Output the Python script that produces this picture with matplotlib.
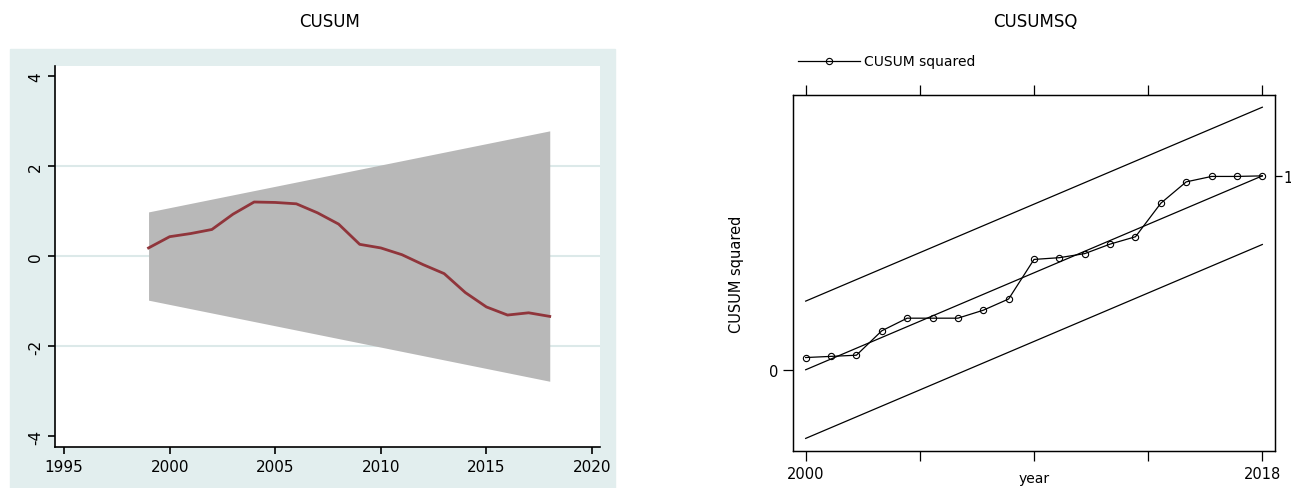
import matplotlib.pyplot as plt
from matplotlib.patches import Rectangle

plt.rcParams['font.family'] = ['DejaVu Sans']

# CUSUM panel
years = list(range(1999, 2019))
cusum = [0.18, 0.43, 0.50, 0.59, 0.93, 1.20, 1.19, 1.16, 0.96, 0.71,
         0.26, 0.18, 0.03, -0.19, -0.39, -0.81, -1.13, -1.31, -1.26, -1.34]
band_years = [1999, 2018]
band_upper = [0.98, 2.78]
band_lower = [-0.98, -2.78]
cusum_xticks = [1995, 2000, 2005, 2010, 2015, 2020]
cusum_yticks = [-4, -2, 0, 2, 4]

# CUSUMSQ panel
sq_years = list(range(2000, 2019))
cusum_sq = [0.063, 0.069, 0.075, 0.201, 0.266, 0.266, 0.266, 0.307, 0.365, 0.569,
            0.578, 0.599, 0.648, 0.686, 0.859, 0.969, 0.997, 0.997, 1.0]
mean_line = [0.0, 1.0]
upper_line = [0.354, 1.354]
lower_line = [-0.354, 0.646]
line_years = [2000, 2018]

fig = plt.figure(figsize=(12.91, 4.89), dpi=100)

# Stata-like background for the left graph
fig.patches.append(Rectangle((10 / 1291, 0), 605 / 1291, 439 / 489,
                             transform=fig.transFigure, color='#e2eeee', zorder=-10))
fig.text(330 / 1291, 1 - 22 / 489, 'CUSUM', ha='center', va='center', fontsize=12)
fig.text(1035 / 1291, 1 - 22 / 489, 'CUSUMSQ', ha='center', va='center', fontsize=12)

ax1 = fig.add_axes([55 / 1291, 1 - 448 / 489, 545 / 1291, 381 / 489])
ax1.set_facecolor('white')
ax1.fill_between(band_years, band_lower, band_upper, color='#b8b8b8', lw=0, zorder=2)
ax1.plot(years, cusum, color='#90353b', lw=2, zorder=3)
for g in [-2, 0, 2]:
    ax1.axhline(g, color='#dce9e9', lw=1.5, zorder=1)
ax1.set_xlim(1994.57, 2020.38)
ax1.set_ylim(-4.24, 4.22)
ax1.set_xticks(cusum_xticks)
ax1.set_yticks(cusum_yticks)
ax1.set_yticklabels([str(v) for v in cusum_yticks], rotation=90, va='center')
ax1.spines['top'].set_visible(False)
ax1.spines['right'].set_visible(False)
ax1.spines['left'].set_linewidth(1.2)
ax1.spines['bottom'].set_linewidth(1.2)
ax1.tick_params(labelsize=11, length=5, width=1.2)

ax2 = fig.add_axes([793 / 1291, 1 - 452 / 489, 482 / 1291, 356 / 489])
ax2.plot(line_years, upper_line, color='black', lw=0.9)
ax2.plot(line_years, mean_line, color='black', lw=0.9)
ax2.plot(line_years, lower_line, color='black', lw=0.9)
ax2.plot(sq_years, cusum_sq, color='black', lw=0.9, marker='o', ms=4.5,
         mfc='none', mew=0.8, label='CUSUM squared')
ax2.set_xlim(1999.5, 2018.5)
ax2.set_ylim(-0.419, 1.417)
ax2.set_xticks([2000, 2004.5, 2009, 2013.5, 2018])
ax2.set_xticklabels(['2000', '', '', '', '2018'])
ax2.set_yticks([0])
ax2.set_yticklabels(['0'])
ax2.tick_params(axis='x', top=True, direction='out', length=7, width=0.9, labelsize=10.5)
ax2.tick_params(axis='y', direction='out', length=7, width=0.9, labelsize=10.5)
ax3 = ax2.twinx()
ax3.set_ylim(ax2.get_ylim())
ax3.set_yticks([1])
ax3.set_yticklabels(['1'])
ax3.tick_params(axis='y', direction='out', length=5, width=0.9, labelsize=10.5, pad=1)
for ax in (ax2, ax3):
    for s in ax.spines.values():
        s.set_linewidth(0.9)
ax2.set_xlabel('year', fontsize=10, labelpad=-7)
ax2.set_ylabel('CUSUM squared', fontsize=10.5, labelpad=18)
ax2.legend(loc='lower left', bbox_to_anchor=(-0.005, 1.055), frameon=False,
           fontsize=10, handlelength=4.5, borderpad=0, handletextpad=0.3)

plt.savefig('out.png', dpi=100)
